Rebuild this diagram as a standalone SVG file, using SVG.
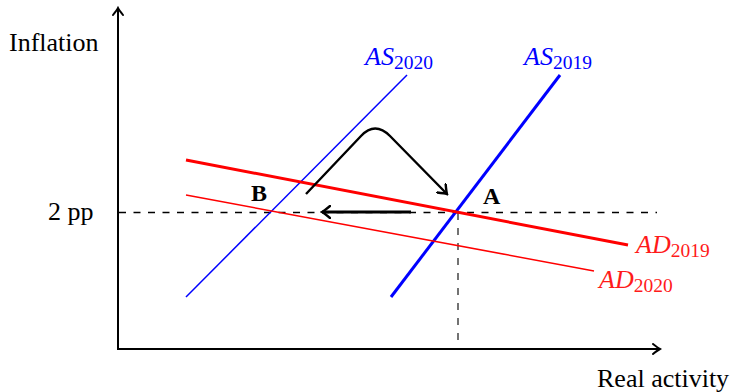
<svg xmlns="http://www.w3.org/2000/svg" width="731" height="392" viewBox="0 0 731 392">
<style>
.t{font-family:"Liberation Serif","Times New Roman",serif;font-size:26px;fill:#000}
.m{font-family:"Liberation Serif","Times New Roman",serif;font-style:italic;font-size:26px}
.s{font-style:normal;font-size:19.5px}
.b{font-family:"Liberation Serif","Times New Roman",serif;font-weight:bold;font-size:24px;fill:#000}
.blue{fill:#0000ff}
.red{fill:#ff1a1a}
.ax{stroke:#000;stroke-width:2;fill:none}
.dash{stroke:#000;stroke-width:1.6;stroke-dasharray:7 7.5;fill:none}
.vdash{stroke:#000;stroke-width:1.1;stroke-dasharray:7 8;fill:none}
</style>
<defs>
<marker id="ah" viewBox="-8 -6 10 12" markerWidth="10" markerHeight="12" refX="0" refY="0" orient="auto" markerUnits="userSpaceOnUse">
<path d="M-7,-5 Q-2,-1 0,0 Q-2,1 -7,5" fill="none" stroke="#000" stroke-width="2" stroke-linecap="round"/>
</marker>
<marker id="ah2" viewBox="-9 -7 11 14" markerWidth="11" markerHeight="14" refX="0" refY="0" orient="auto" markerUnits="userSpaceOnUse">
<path d="M-8,-6 Q-2,-1 0,0 Q-2,1 -8,6" fill="none" stroke="#000" stroke-width="2.4" stroke-linecap="round"/>
</marker>
</defs>
<g id="axes">
<line class="ax" x1="118" y1="349" x2="118" y2="8" marker-end="url(#ah)"/>
<line class="ax" x1="117" y1="349" x2="660" y2="349" marker-end="url(#ah)"/>
</g>
<g id="guides">
<line class="dash" x1="119" y1="212.5" x2="657" y2="212.5"/>
<line class="vdash" x1="458" y1="213" x2="458" y2="348"/>
</g>
<g id="curves">
<line id="AS2020" x1="186" y1="297" x2="407" y2="75" stroke="#0000ff" stroke-width="1.5"/>
<line id="AS2019" x1="391" y1="297" x2="560" y2="75" stroke="#0000ff" stroke-width="3"/>
<line id="AD2019" x1="186" y1="160" x2="628" y2="245" stroke="#ff0000" stroke-width="3"/>
<line id="AD2020" x1="186" y1="195" x2="594" y2="271" stroke="#ff0000" stroke-width="1.5"/>
</g>
<g id="connectors">
<path d="M306,194 L361,136 Q375,121 390,136 L447,194" fill="none" stroke="#000" stroke-width="2.4" marker-end="url(#ah2)"/>
<line x1="411" y1="212" x2="322" y2="212" stroke="#000" stroke-width="3" marker-end="url(#ah2)"/>
</g>
<g id="labels">
<text class="t" x="9" y="51">Inflation</text>
<text class="t" x="48" y="220">2 pp</text>
<text class="t" x="597" y="387">Real activity</text>
<text class="b" x="251" y="201">B</text>
<text class="b" x="483" y="204">A</text>
<text class="m blue" x="365" y="65">AS<tspan class="s" dy="4">2020</tspan></text>
<text class="m blue" x="524" y="65">AS<tspan class="s" dy="4">2019</tspan></text>
<text class="m red" x="636" y="253">AD<tspan class="s" dy="4">2019</tspan></text>
<text class="m red" x="599" y="288">AD<tspan class="s" dy="4">2020</tspan></text>
</g>
</svg>
